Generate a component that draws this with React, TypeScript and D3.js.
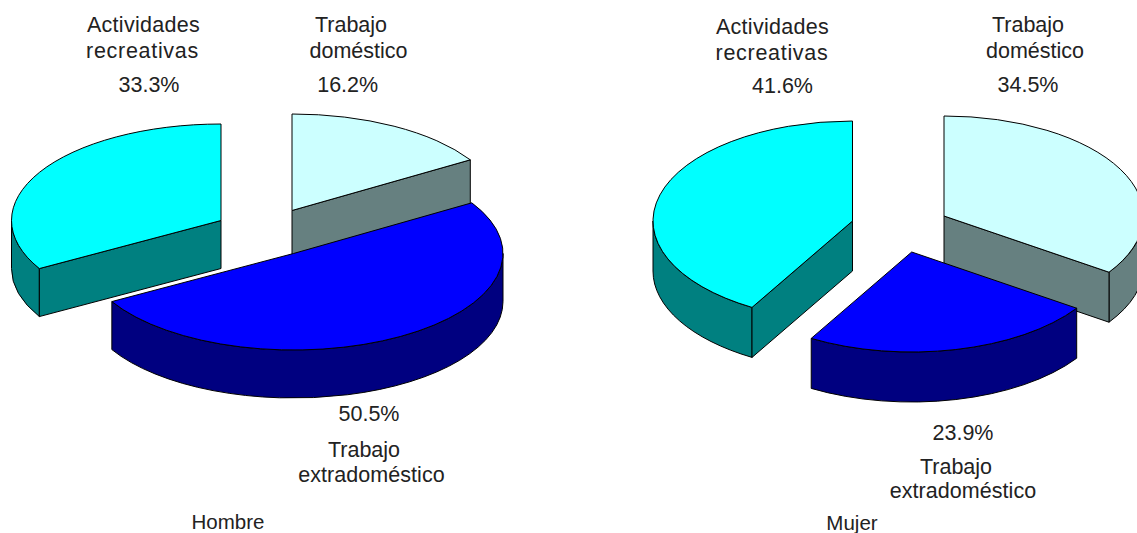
import React from "react";
import * as d3 from "d3";

// ---- data ----
const categories = ["Trabajo doméstico", "Trabajo extradoméstico", "Actividades recreativas"];
const hombreValues = [16.2, 50.5, 33.3];
const mujerValues = [34.5, 23.9, 41.6];
const hombreTitle = "Hombre";
const mujerTitle = "Mujer";

// ---- styles ----
const topColors = ["#CCFFFF", "#0000FF", "#00FFFF"];
const sideColors = ["#668080", "#000080", "#008080"];
const FONT = "'Liberation Sans', Arial, sans-serif";
const LABEL_SIZE = 21.5;
const TITLE_SIZE = 20.5;
const TEXT_COLOR = "#222";
// extra tracking per category, per text line (first word, second word, percentage)
const labelTracking = [
  [0, 0, 0],
  [0, 0.05, 0],
  [0.3, 0.7, 0],
];

// ---- layout: pixel geometry of each exploded pie, apex of each slice ----
const hombreLayout = {
  rx: 209.5, ry: 96.5, depth: 48,
  apex: [[292, 210.5], [293.5, 253.5], [221, 220.5]],
  labels: [
    [[351, 31.5], [358.5, 58], [347.7, 92]],
    [[364, 457], [371.5, 482], [369, 421]],
    [[143.5, 31.5], [142.5, 58], [149, 92]],
  ],
  title: [228, 529],
};
const mujerLayout = {
  rx: 199.5, ry: 100, depth: 50,
  apex: [[944, 216], [911.7, 252], [852.5, 221]],
  labels: [
    [[1028, 31.5], [1035, 58], [1028, 92]],
    [[956, 474], [963, 498], [963, 440]],
    [[772.5, 33.5], [772, 59.5], [782.5, 93]],
  ],
  title: [852, 530],
};

// two lines of each category name
const splitName = (name: string) => {
  const i = name.indexOf(" ");
  return [name.slice(0, i), name.slice(i + 1)];
};

type Layout = typeof hombreLayout;

function Pie({ values, layout, title }: { values: number[]; layout: Layout; title: string }) {
  const { rx, ry, depth } = layout;
  const total = d3.sum(values);
  const arcs = d3
    .pie<number>()
    .sort(null)
    .value((d) => d)(values.map((v) => (v / total) * 100));

  const pt = (a: number, c: number[], dz = 0): [number, number] => [
    c[0] + rx * Math.sin(a),
    c[1] - ry * Math.cos(a) + dz,
  ];
  const ell = (from: number, to: number, c: number[], dz = 0) => {
    const [x, y] = pt(to, c, dz);
    const large = Math.abs(to - from) > Math.PI ? 1 : 0;
    const sweep = to > from ? 1 : 0;
    return `A${rx},${ry} 0 ${large} ${sweep} ${x},${y}`;
  };

  const order = [0, 2, 1];
  const stroke = { stroke: "#000", strokeWidth: 1, strokeLinejoin: "round" as const };

  return (
    <g>
      {order.map((i) => {
        const { startAngle: a0, endAngle: a1 } = arcs[i];
        const c = layout.apex[i];
        const parts: React.ReactNode[] = [];
        // outer wall: the part of the rim that faces the viewer
        const w0 = Math.max(a0, Math.PI / 2);
        const w1 = Math.min(a1, (3 * Math.PI) / 2);
        if (w1 > w0) {
          const p0 = pt(w0, c);
          const p1 = pt(w1, c, depth);
          parts.push(
            <path
              key="wall"
              d={`M${p0[0]},${p0[1]} ${ell(w0, w1, c)} L${p1[0]},${p1[1]} ${ell(w1, w0, c, depth)} Z`}
              fill={sideColors[i]}
              {...stroke}
            />
          );
        }
        // cut faces
        const faces: number[] = [];
        if (Math.sin(a0) < -1e-6) faces.push(a0);
        if (Math.sin(a1) > 1e-6) faces.push(a1);
        faces.forEach((a) => {
          const p = pt(a, c);
          parts.push(
            <path
              key={`face${a}`}
              d={`M${c[0]},${c[1]} L${p[0]},${p[1]} L${p[0]},${p[1] + depth} L${c[0]},${c[1] + depth} Z`}
              fill={sideColors[i]}
              {...stroke}
            />
          );
        });
        // top
        const s = pt(a0, c);
        parts.push(
          <path
            key="top"
            d={`M${c[0]},${c[1]} L${s[0]},${s[1]} ${ell(a0, a1, c)} Z`}
            fill={topColors[i]}
            {...stroke}
          />
        );
        return <g key={i}>{parts}</g>;
      })}
      {categories.map((name, i) => {
        const [l1, l2] = splitName(name);
        const pos = layout.labels[i];
        const texts = [l1, l2, `${d3.format(".1f")(values[i])}%`];
        return (
          <g key={name}>
            {texts.map((t, j) => (
              <text
                key={j}
                x={pos[j][0]}
                y={pos[j][1]}
                textAnchor="middle"
                fontFamily={FONT}
                fontSize={LABEL_SIZE}
                letterSpacing={labelTracking[i][j]}
                fill={TEXT_COLOR}
              >
                {t}
              </text>
            ))}
          </g>
        );
      })}
      <text
        x={layout.title[0]}
        y={layout.title[1]}
        textAnchor="middle"
        fontFamily={FONT}
        fontSize={TITLE_SIZE}
        fill={TEXT_COLOR}
      >
        {title}
      </text>
    </g>
  );
}

export default function App() {
  return (
    <svg
      width={1137}
      height={533}
      viewBox="0 0 1137 533"
      style={{ position: "absolute", left: 0, top: 0, background: "#fff" }}
    >
      <Pie values={hombreValues} layout={hombreLayout} title={hombreTitle} />
      <Pie values={mujerValues} layout={mujerLayout} title={mujerTitle} />
    </svg>
  );
}
